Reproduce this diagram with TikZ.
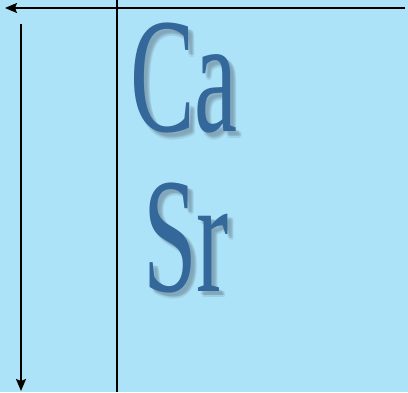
\documentclass[tikz,border=0pt]{standalone}
\usepackage{fontspec}
\setmainfont{Liberation Serif}
\usetikzlibrary{arrows.meta}
\definecolor{bgblue}{HTML}{ADE3F8}
\definecolor{txtblue}{HTML}{35689A}
\definecolor{shad}{HTML}{6E8A9C}
\tikzset{
  axis/.style={line width=1.9pt, black, -{Stealth[length=12pt,width=10pt,inset=2pt]}},
  plain/.style={line width=1.9pt, black},
  elem/.style={anchor=base west, inner sep=0pt, text=txtblue, font=\fontsize{164}{164}\selectfont, xscale=0.59, transform shape},
  elemshadow/.style={elem, text=shad, opacity=0.12}
}
\begin{document}
\begin{tikzpicture}[x=1pt,y=1pt]
\fill[bgblue] (0,0) rectangle (408,392);
\useasboundingbox (0,0) rectangle (408,392);
% soft shadows
\foreach \dx/\dy in {3/-3,4/-4,5/-5,6/-5,4/-6,5/-4,3/-5,6/-6}{
  \node[elemshadow] at (130+\dx,260+\dy) {Ca};
  \node[elemshadow] at (143+\dx,101+\dy) {Sr};
}
\node[elem] (ca) at (130,260) {Ca};
\node[elem] (sr) at (143,101) {Sr};
% lines
\coordinate (vtop) at (117,392);
\coordinate (vbot) at (117,0);
\draw[plain] (vtop) -- (vbot);
\coordinate (hstart) at (405,384);
\coordinate (hend) at (5,384);
\draw[axis] (hstart) -- (hend);
\coordinate (dstart) at (21,368);
\coordinate (dend) at (21,1);
\draw[axis] (dstart) -- (dend);
\end{tikzpicture}
\end{document}
